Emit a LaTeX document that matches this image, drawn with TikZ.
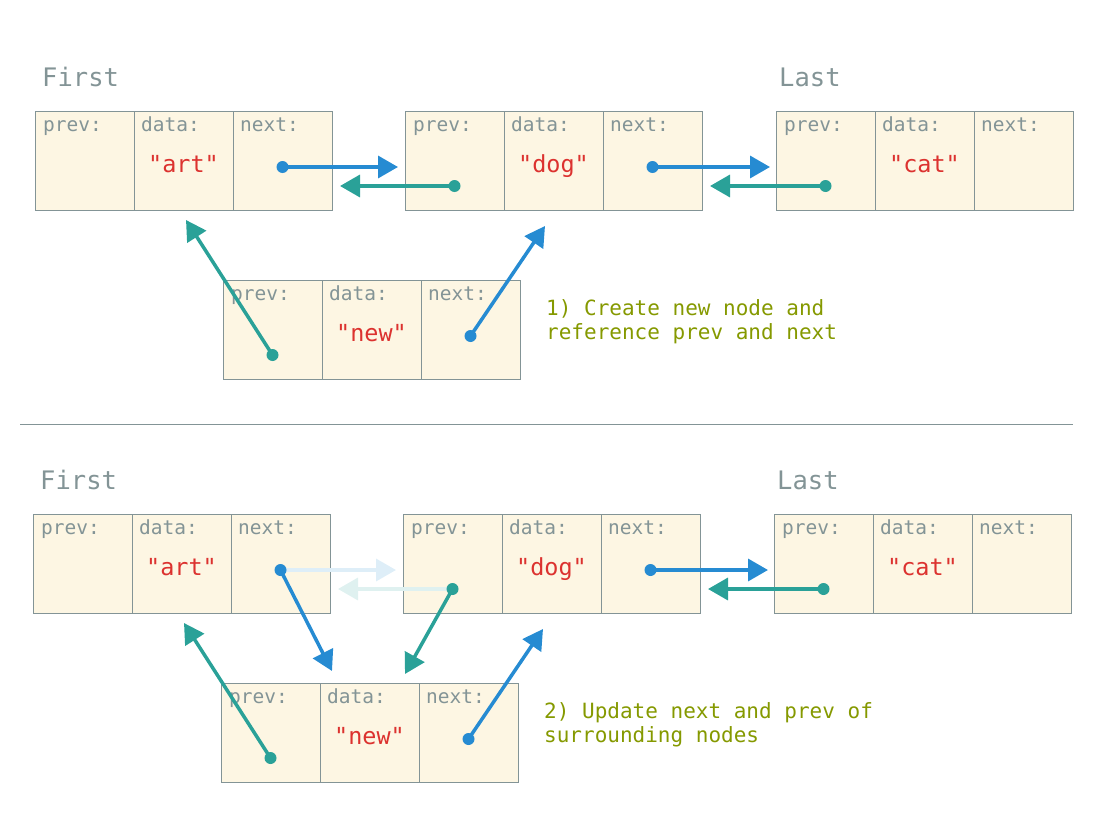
\documentclass[tikz,border=0pt]{standalone}
\usepackage{fontspec}
\setmonofont{DejaVu Sans Mono}
\renewcommand{\familydefault}{\ttdefault}
\usetikzlibrary{arrows.meta, positioning, calc}

\definecolor{boxfill}{HTML}{FDF6E3}
\definecolor{boxline}{HTML}{839496}
\definecolor{sred}{HTML}{DC322F}
\definecolor{sblue}{HTML}{268BD2}
\definecolor{steal}{HTML}{2AA198}
\definecolor{sgreen}{HTML}{859900}

\tikzset{
  cell/.style={rectangle, draw=boxline, fill=boxfill, line width=1pt,
    minimum width=99pt, minimum height=99pt, inner sep=0pt, outer sep=0pt,
    anchor=north west},
  field/.style={anchor=base west, inner sep=0pt, text=boxline,
    font=\fontsize{19.5}{21}\selectfont},
  value/.style={anchor=base, inner sep=0pt, text=sred,
    font=\fontsize{23.5}{25}\selectfont},
  title/.style={anchor=base west, inner sep=0pt, text=boxline,
    font=\fontsize{25.5}{28}\selectfont},
  note/.style={anchor=north west, inner sep=0pt, align=left, text=sgreen,
    font=\fontsize{21}{24.5}\selectfont},
  ptr/.style={line width=3.5pt, -{Triangle[length=20pt,width=22pt]}},
  nextptr/.style={ptr, draw=sblue},
  prevptr/.style={ptr, draw=steal},
}

% one list node: name, x, y, data
\newcommand{\listnode}[4]{%
  \node[cell] (#1-prev) at (#2,#3) {};
  \node[cell, right=0pt of #1-prev] (#1-data) {};
  \node[cell, right=0pt of #1-data] (#1-next) {};
  \node[field] (#1-plbl) at ($(#1-prev.north west)+(8,20)$) {prev:};
  \node[field] (#1-dlbl) at ($(#1-data.north west)+(7,20)$) {data:};
  \node[field] (#1-nlbl) at ($(#1-next.north west)+(7,20)$) {next:};
  \node[value] (#1-val) at ($(#1-data.north)+(0,61)$) {"#4"};
  \coordinate (#1-nd) at ($(#1-next.center)+(0,6.5)$);
  \coordinate (#1-pd) at ($(#1-prev.center)+(0,25.5)$);
}

\begin{document}
\begin{tikzpicture}[x=1pt, y=-1pt]
  \useasboundingbox (0,0) rectangle (1109,816);

  % 1) new node created
  \node[title] (first1) at (42,86) {First};
  \node[title] (last1) at (779,86) {Last};
  \listnode{art1}{35}{111}{art}
  \listnode{dog1}{405}{111}{dog}
  \listnode{cat1}{776}{111}{cat}
  \listnode{new1}{223}{280}{new}
  \node[note] (note1) at (546,299) {1) Create new node and\\reference prev and next};

  \draw[nextptr] (art1-nd) -- ($(art1-nd -| dog1-prev.west)+(-7,0)$);
  \draw[prevptr] (dog1-pd) -- ($(dog1-pd -| art1-next.east)+(8,0)$);
  \draw[nextptr] (dog1-nd) -- ($(dog1-nd -| cat1-prev.west)+(-6,0)$);
  \draw[prevptr] (cat1-pd) -- ($(cat1-pd -| dog1-next.east)+(8,0)$);
  \draw[prevptr] (new1-pd) -- ($(art1-data.south)+(2.5,10)$);
  \draw[nextptr] (new1-nd) -- ($(dog1-data.south)+(-8.5,16)$);
  \foreach \d in {art1-nd, dog1-nd, new1-nd} \fill[sblue] (\d) circle (6pt);
  \foreach \d in {dog1-pd, cat1-pd, new1-pd} \fill[steal] (\d) circle (6pt);

  \draw[boxline, line width=0.8pt] (20,424) -- (1073,424);

  % 2) neighbours updated
  \node[title] (first2) at (40,489) {First};
  \node[title] (last2) at (777,489) {Last};
  \listnode{art2}{33}{514}{art}
  \listnode{dog2}{403}{514}{dog}
  \listnode{cat2}{774}{514}{cat}
  \listnode{new2}{221}{683}{new}
  \node[note] (note2) at (544,702) {2) Update next and prev of\\surrounding nodes};

  \draw[nextptr, draw=sblue!15] (art2-nd) -- ($(art2-nd -| dog2-prev.west)+(-7,0)$);
  \draw[prevptr, draw=steal!15] (dog2-pd) -- ($(dog2-pd -| art2-next.east)+(8,0)$);
  \draw[nextptr] (art2-nd) -- ($(new2-data.north west)+(12,-12)$);
  \draw[prevptr] (dog2-pd) -- ($(new2-data.north east)+(-14,-9)$);
  \draw[nextptr] (dog2-nd) -- ($(dog2-nd -| cat2-prev.west)+(-6,0)$);
  \draw[prevptr] (cat2-pd) -- ($(cat2-pd -| dog2-next.east)+(8,0)$);
  \draw[prevptr] (new2-pd) -- ($(art2-data.south)+(2.5,10)$);
  \draw[nextptr] (new2-nd) -- ($(dog2-data.south)+(-8.5,16)$);
  \foreach \d in {art2-nd, dog2-nd, new2-nd} \fill[sblue] (\d) circle (6pt);
  \foreach \d in {dog2-pd, cat2-pd, new2-pd} \fill[steal] (\d) circle (6pt);
\end{tikzpicture}
\end{document}
